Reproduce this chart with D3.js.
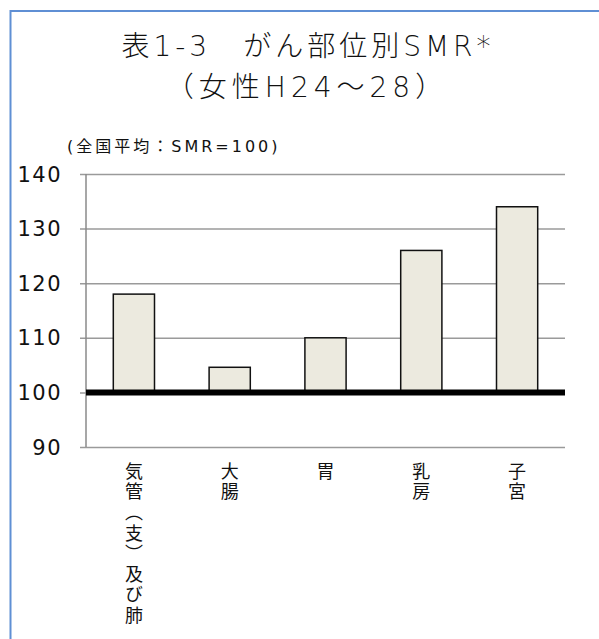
<!DOCTYPE html>
<html>
<head>
<meta charset="utf-8">
<script src="https://cdn.jsdelivr.net/npm/d3@7"></script>
<style>
  body { margin: 0; background: #fff; }
  text { font-family: "DejaVu Sans", "Noto Sans CJK JP", sans-serif; fill: #111; }
  .xlab { font-family: "Noto Sans CJK JP", sans-serif; }
</style>
</head>
<body>
<div id="chart"></div>
<script>
var categories = ["気管（支）及び肺", "大腸", "胃", "乳房", "子宮"];
var smr = [118, 104.6, 110, 126, 134];
var yTicks = [90, 100, 110, 120, 130, 140];

var W = 599, H = 639;
var margin = {top: 174, left: 86, right: 34, bottom: 192};
var width = W - margin.left - margin.right,
    height = H - margin.top - margin.bottom;

var svg = d3.select("#chart").append("svg")
   .attr("width", W)
   .attr("height", H);

// frame
svg.append("rect")
   .attr("x", 10.5).attr("y", 11)
   .attr("width", W + 20).attr("height", H + 20)
   .attr("fill", "none")
   .attr("stroke", "#5f8fd4")
   .attr("stroke-width", 2);

// titles
svg.append("text").attr("x", 308).attr("y", 56)
   .attr("text-anchor", "middle").style("font-size", "28px")
   .style("font-weight", 300)
   .style("letter-spacing", "4px")
   .text("表1-3　がん部位別SMR*");
svg.append("text").attr("x", 307).attr("y", 97)
   .attr("text-anchor", "middle").style("font-size", "28px")
   .style("font-weight", 300)
   .style("letter-spacing", "5px")
   .text("（女性H24～28）");
svg.append("text").attr("x", 67).attr("y", 152)
   .style("font-size", "16px")
   .style("letter-spacing", "3px")
   .text("(全国平均：SMR=100)");

var g = svg.append("g")
   .attr("transform", "translate(" + margin.left + "," + margin.top + ")");

var x = d3.scaleBand()
   .domain(categories)
   .range([0, width])
   .paddingInner(0.57)
   .paddingOuter(0.285);

var y = d3.scaleLinear()
   .domain([90, 140])
   .range([height, 0]);

// gridlines
g.append("g")
   .call(d3.axisLeft(y).tickValues(yTicks).tickSize(0).tickFormat(""))
   .call(function(s){
      s.select(".domain").remove();
      s.selectAll(".tick line")
        .attr("x1", -6).attr("x2", width)
        .attr("stroke", "#9a9a9a").attr("stroke-width", 1.5);
   });

// y axis line
g.append("line")
   .attr("x1", 0).attr("x2", 0)
   .attr("y1", y(140)).attr("y2", y(90))
   .attr("stroke", "#8a8a8a").attr("stroke-width", 1.5);

// tick labels
g.selectAll(".ylab")
   .data(yTicks).enter()
   .append("text")
   .attr("class", "ylab")
   .attr("x", -24)
   .attr("y", function(d){ return y(d) + 7.5; })
   .attr("text-anchor", "end")
   .style("font-size", "21px")
   .style("letter-spacing", "1.5px")
   .text(function(d){ return d; });

// bars from 100
g.selectAll(".bar")
   .data(smr).enter()
   .append("rect")
   .attr("class", "bar")
   .attr("x", function(d, i){ return x(categories[i]); })
   .attr("width", x.bandwidth())
   .attr("y", function(d){ return y(d); })
   .attr("height", function(d){ return y(100) - y(d); })
   .attr("fill", "#eceadf")
   .attr("stroke", "#111")
   .attr("stroke-width", 1.5);

// baseline at 100
g.append("line")
   .attr("x1", 0).attr("x2", width)
   .attr("y1", y(100)).attr("y2", y(100))
   .attr("stroke", "#000").attr("stroke-width", 6);

// vertical category labels
g.selectAll(".xlab")
   .data(categories).enter()
   .append("text")
   .attr("class", "xlab")
   .attr("x", function(d){ return x(d) + x.bandwidth() / 2; })
   .attr("y", height + 15)
   .style("writing-mode", "vertical-rl")
   .style("font-size", "18px")
   .style("letter-spacing", "2.6px")
   .text(function(d){ return d; });
</script>
</body>
</html>
